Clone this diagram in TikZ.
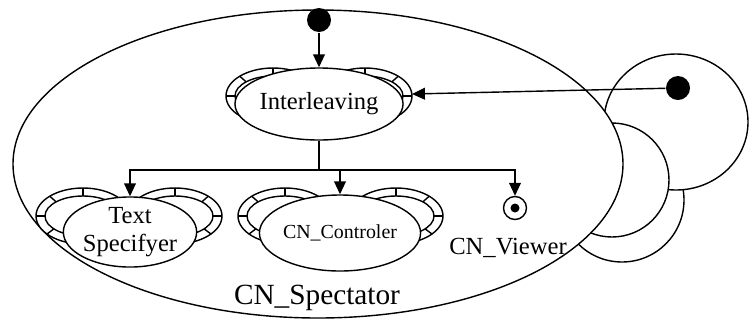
\documentclass[tikz,border=0pt]{standalone}
\usepackage{fontspec}
\setmainfont{Liberation Serif}
\usetikzlibrary{shapes.geometric,arrows.meta}

\begin{document}
\begin{tikzpicture}[x=0.03cm,y=-0.03cm,line width=1.2pt,
  arr/.style={-{Triangle[width=10pt,length=11pt]}},
  task/.style={ellipse,draw,fill=white,inner sep=0pt,align=center,
    font=\fontsize{21}{24}\selectfont},
  dot/.style={circle,fill,inner sep=0pt,minimum size=0.72cm},
  ear/.pic={
    \draw[fill=white] (0,0) ellipse [x radius=47,y radius=28];
    \draw (0,0) ellipse [x radius=38,y radius=20];
    \foreach \a in {90,45,0,-40}
      \draw ({38*cos(\a)},{-20*sin(\a)}) -- ({47*cos(\a)},{-28*sin(\a)});
  }]
  \useasboundingbox (0,0) rectangle (750,322);

  % stacked states on the right
  \draw[fill=white] (622,200) circle [radius=62];
  \draw[fill=white] (676,122) ellipse [x radius=72,y radius=68];
  \draw[fill=white] (612,180) circle [radius=57];
  \node[dot] (rdot) at (678,88) {};

  % CN_Spectator
  \draw[fill=white] (318,164) ellipse [x radius=305,y radius=154];
  \node[font=\fontsize{25}{28}\selectfont] (spec) at (317,298) {CN\_Spectator};

  \pic[xscale=-1] at (273,96) {ear};
  \pic at (365,96) {ear};
  \coordinate (earR) at (412,94);
  \node[task,minimum width=3.84cm,minimum height=2.16cm] (inter) at (319,104) {Interleaving};

  \pic[xscale=-1] at (83,216) {ear};
  \pic at (175,216) {ear};
  \node[task,minimum width=3.72cm,minimum height=2.04cm] (text) at (130,232) {Text\\Specifyer};

  \pic[xscale=-1] at (285,216) {ear};
  \pic at (396,216) {ear};
  \node[task,minimum width=3.84cm,minimum height=2.28cm,
    font=\fontsize{17}{20}\selectfont] (ctrl) at (340,233) {CN\_Controler};

  \node[circle,draw,inner sep=0pt,minimum size=0.69cm] (final) at (515,208) {};
  \node[circle,fill,inner sep=0pt,minimum size=0.27cm] (finaldot) at (final) {};
  \node[font=\fontsize{21}{24}\selectfont] (viewer) at (508,248) {CN\_Viewer};

  \node[dot] (init) at (319,20) {};

  \draw[arr] (init) -- (inter);
  \draw[arr] (rdot) -- (earR);
  \draw (inter) -- (319,170) coordinate (fork);
  \draw[arr] (fork) -| (text);
  \draw[arr] (fork) -| (ctrl);
  \draw[arr] (fork) -| (final);
\end{tikzpicture}
\end{document}
